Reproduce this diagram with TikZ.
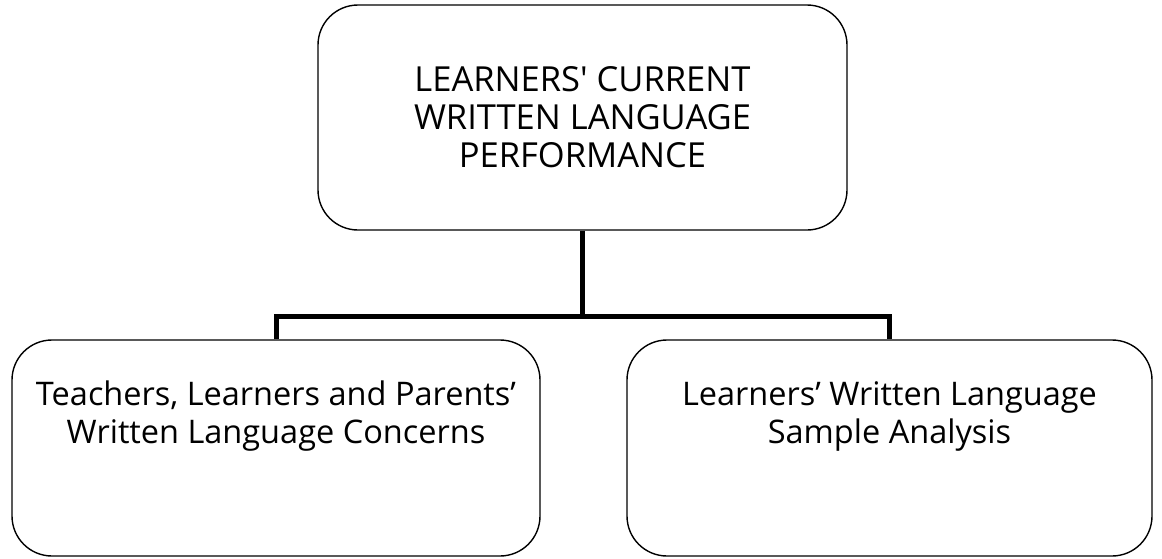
\documentclass[tikz,border=0pt]{standalone}
\usepackage{fontspec}
\setmainfont{Open Sans}
\begin{document}
\begin{tikzpicture}[x=1pt,y=-1pt,
  box/.style={draw=black, line width=1.4pt, rounded corners=40pt, inner sep=0pt},
  lbl/.style={align=center, font=\fontsize{32.5}{38}\selectfont, inner sep=0pt},
  toplbl/.style={lbl, font=\fontsize{34.5}{38}\selectfont},
  conn/.style={draw=black, line width=5pt, line join=miter, line cap=butt}]
\useasboundingbox (0,0) rectangle (1162,558);
\node[box, minimum width=529pt, minimum height=225pt] (top) at (582.5,117.5) {};
\node[toplbl] (toptxt) at (582.5,117) {LEARNERS\textquotesingle{} CURRENT\\WRITTEN LANGUAGE\\PERFORMANCE};
\node[box, minimum width=528pt, minimum height=216pt] (lb) at (276,448) {};
\node[lbl] (lbtxt) at (276,416) {Teachers, Learners and Parents'\\Written Language Concerns};
\node[box, minimum width=525pt, minimum height=216pt] (rb) at (889.5,448) {};
\node[lbl] (rbtxt) at (889.5,416) {Learners' Written Language\\Sample Analysis};
\coordinate (j) at (582.5,316);
\draw[conn] (top.south) -- (j);
\draw[conn] (lb.north) |- (j) -| (rb.north);
\end{tikzpicture}
\end{document}
